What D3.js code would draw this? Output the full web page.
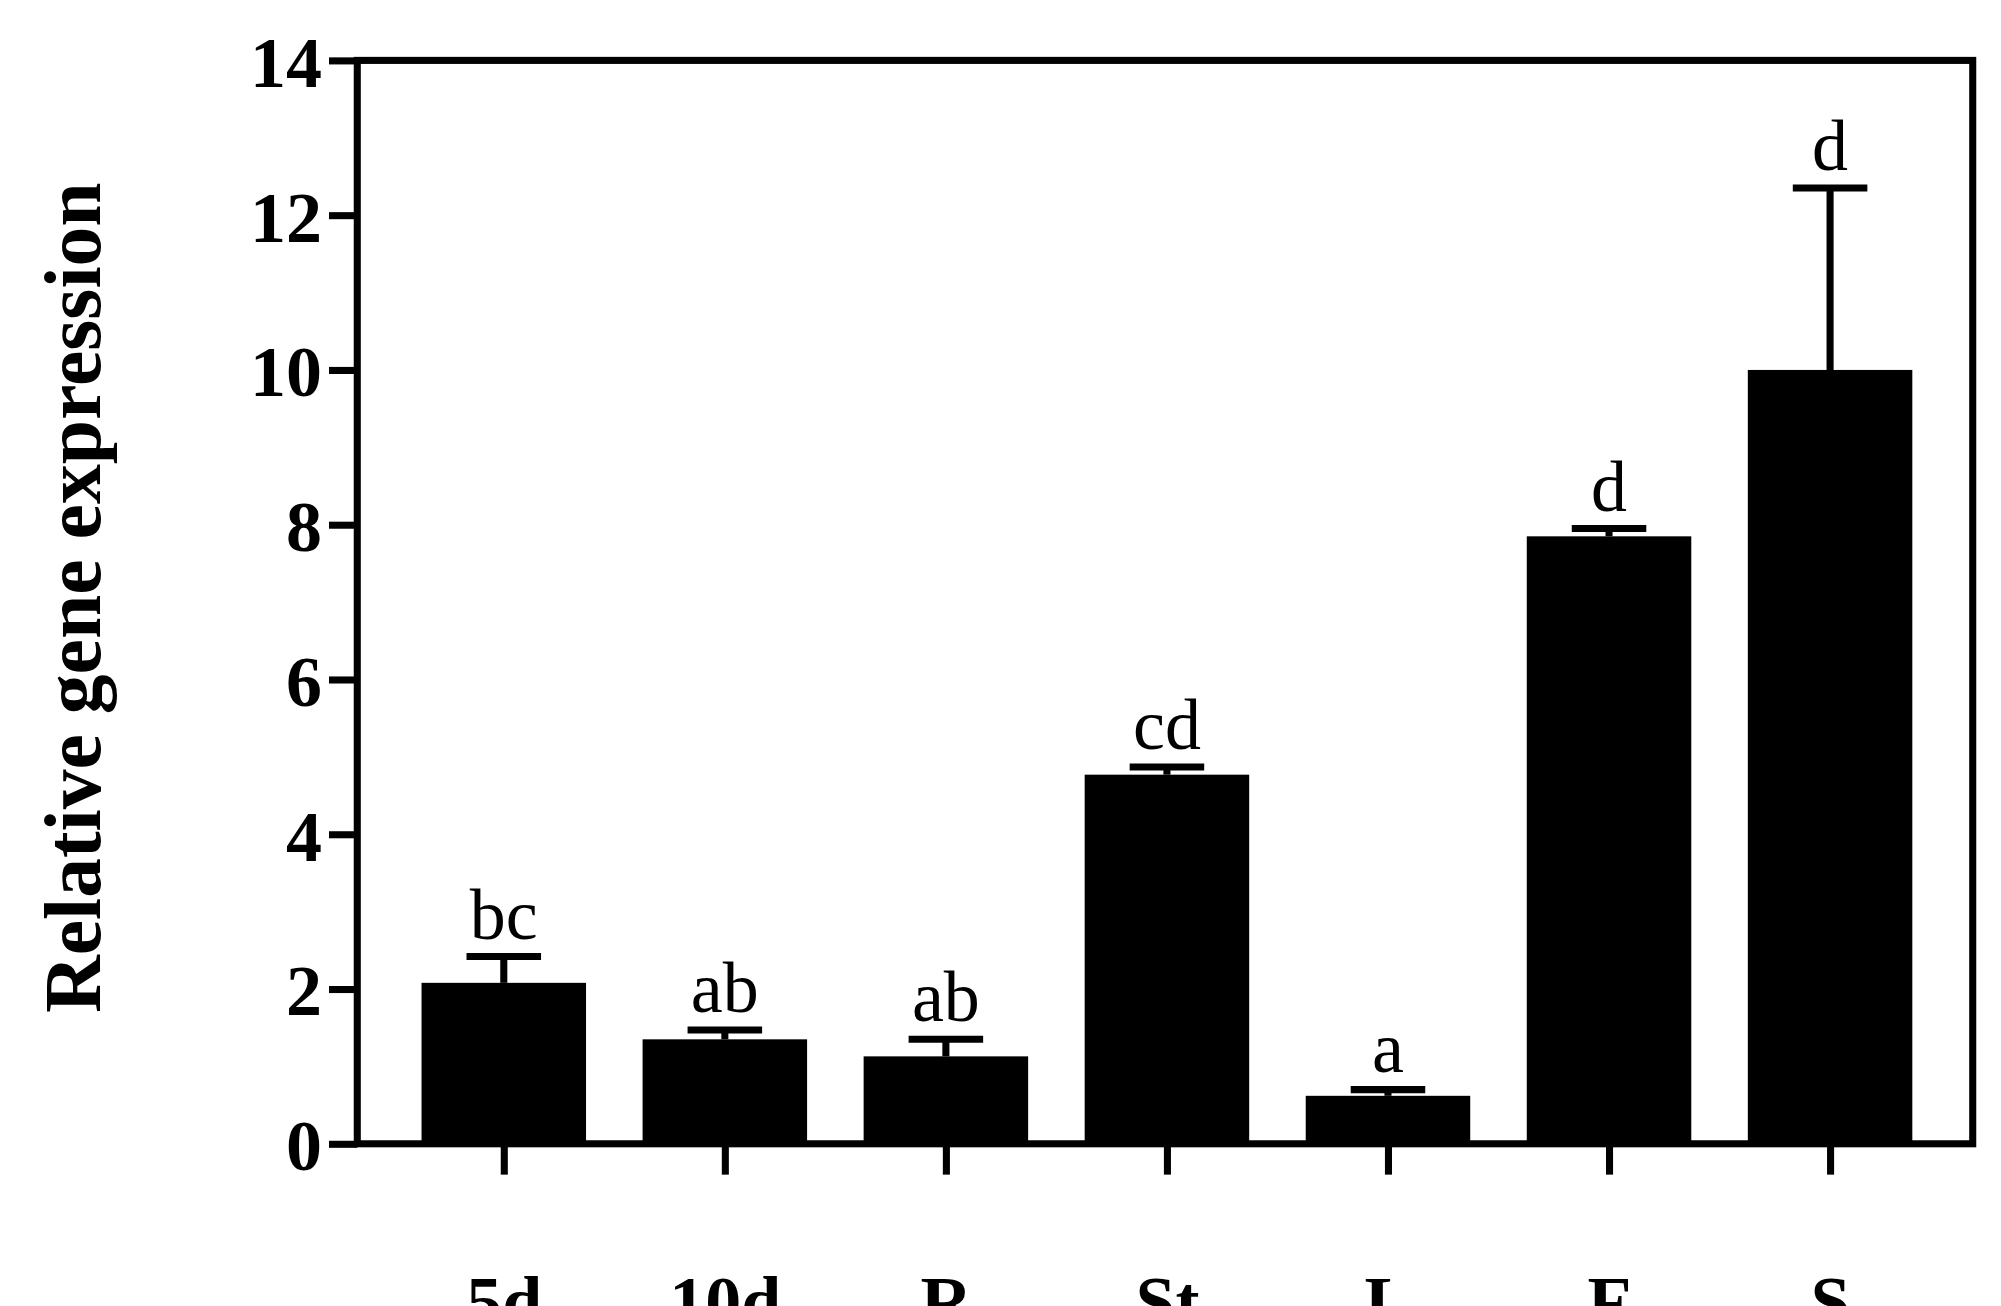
<!DOCTYPE html>
<html><head><meta charset="utf-8">
<script src="https://cdn.jsdelivr.net/npm/d3@7"></script>
<style>body{margin:0;background:#fff}</style>
</head><body>
<script>
var categories = ["5d", "10d", "R", "St", "L", "F", "S"];
var values = [2.08, 1.35, 1.13, 4.77, 0.62, 7.85, 10.0];
var errors = [0.34, 0.12, 0.22, 0.10, 0.08, 0.10, 2.35];
var letters = ["bc", "ab", "ab", "cd", "a", "d", "d"];
var yTicks = [0, 2, 4, 6, 8, 10, 12, 14];

var k = 2001 / 1557;
var svg = d3.select("body").append("svg").attr("width", 2001).attr("height", 1306);

var plotLeft = 278 * k, plotRight = 1535 * k, plotTop = 47 * k, plotBottom = 890 * k;

var x = d3.scalePoint().domain(categories).range([392 * k, 1424 * k]);
var y = d3.scaleLinear().domain([0, 14]).range([plotBottom, plotTop]);
var barW = 128 * k, capW = 58 * k, lw = 5.5 * k;

// bars
svg.selectAll("rect.bar").data(values).enter().append("rect")
  .attr("x", (d, i) => x(categories[i]) - barW / 2)
  .attr("y", d => y(d))
  .attr("width", barW)
  .attr("height", d => y(0) - y(d))
  .attr("fill", "#000");

// error bars
var eb = svg.append("g").attr("stroke", "#000").attr("stroke-width", lw);
values.forEach(function(v, i) {
  var cx = x(categories[i]);
  eb.append("line").attr("x1", cx).attr("x2", cx).attr("y1", y(v)).attr("y2", y(v + errors[i]));
  eb.append("line").attr("x1", cx - capW / 2).attr("x2", cx + capW / 2)
    .attr("y1", y(v + errors[i])).attr("y2", y(v + errors[i]));
});

// letters
svg.selectAll("text.sig").data(letters).enter().append("text")
  .attr("x", (d, i) => x(categories[i]))
  .attr("y", (d, i) => y(values[i] + errors[i]) - 14 * k)
  .attr("text-anchor", "middle")
  .style("font-family", "'Liberation Serif', serif")
  .style("font-size", (56 * k) + "px")
  .text(d => d);

// frame
svg.append("rect").attr("x", plotLeft).attr("y", plotTop)
  .attr("width", plotRight - plotLeft).attr("height", plotBottom - plotTop)
  .attr("fill", "none").attr("stroke", "#000").attr("stroke-width", lw);

// y axis
var yAxis = svg.append("g").attr("transform", `translate(${plotLeft},0)`)
  .call(d3.axisLeft(y).tickValues(yTicks).tickSize(22 * k).tickSizeOuter(0));
yAxis.select(".domain").remove();
yAxis.selectAll("line").attr("stroke-width", lw);
yAxis.selectAll("text").attr("dx", "-4").attr("dy", "0.36em")
  .style("font-family", "'Liberation Serif', serif").style("font-weight", "bold")
  .style("font-size", (56 * k) + "px").attr("fill", "#000");

// x axis
var xAxis = svg.append("g").attr("transform", `translate(0,${plotBottom})`)
  .call(d3.axisBottom(x).tickSize(24 * k).tickSizeOuter(0));
xAxis.select(".domain").remove();
xAxis.selectAll("line").attr("stroke-width", lw);
xAxis.selectAll("text").attr("y", 102 * k)
  .style("font-family", "'Liberation Serif', serif").style("font-weight", "bold")
  .style("font-size", (56 * k) + "px").attr("fill", "#000");

// y label
svg.append("text")
  .attr("transform", `translate(${78 * k},${465 * k}) rotate(-90)`)
  .attr("text-anchor", "middle")
  .style("font-family", "'Liberation Serif', serif").style("font-weight", "bold")
  .style("font-size", (62 * k) + "px")
  .text("Relative gene expression");
</script>
</body></html>
